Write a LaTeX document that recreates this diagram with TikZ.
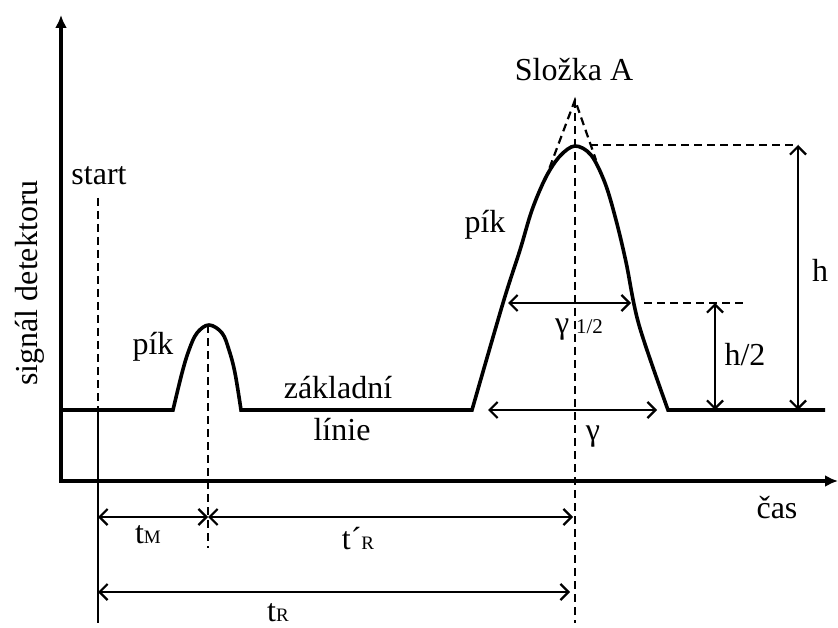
\documentclass[tikz,border=0pt]{standalone}
\usepackage{fontspec}
\setmainfont{Liberation Serif}
\usetikzlibrary{arrows.meta}
\begin{document}
\begin{tikzpicture}[x=1pt,y=-1pt,
  lbl/.style={inner sep=0pt, anchor=base, font=\fontsize{32}{38}\selectfont},
  curve/.style={line width=3.6pt, line join=miter},
  axis/.style={line width=3.2pt, {Latex[length=13pt,width=12pt]}-{Latex[length=13pt,width=12pt]}},
  dim/.style={line width=2.2pt, {Straight Barb[length=8pt,width=16pt]}-{Straight Barb[length=8pt,width=16pt]}},
  guide/.style={line width=2.2pt, dash pattern=on 8pt off 5pt},
  plain/.style={line width=2.2pt},
]
\useasboundingbox (0,0) rectangle (838,628);
% axes
\coordinate (ytop) at (61,15);
\coordinate (orig) at (61,481);
\coordinate (xend) at (838,481);
\draw[axis] (ytop) -- (orig) -- (xend);

% signal curve
\coordinate (b0) at (61,410);
\coordinate (b3) at (825,410);
\draw[curve] (b0) -- plot[smooth, tension=0.6] coordinates {(173,410) (182,373) (189,350) (197,333) (209,325) (222,333) (229,350) (235,373) (241,410)}
  -- plot[smooth, tension=0.55] coordinates {(472,410) (503,303) (520,250) (532,210) (546,177) (560,156) (575,146) (591,155) (605,183) (616,220) (626,262) (639,325) (668,410)}
  -- (b3);

% guide lines
\coordinate (st0) at (98,198);
\coordinate (st1) at (98,410);
\coordinate (st2) at (98,623);
\draw[guide] (st0) -- (st1);
\draw[plain] (st1) -- (st2);
\coordinate (sp0) at (208,325);
\coordinate (sp1) at (208,548);
\draw[guide] (sp0) -- (sp1);
\coordinate (apex) at (575,100);
\coordinate (cb) at (575,623);
\draw[guide] (apex) -- (cb);
\coordinate (tl) at (545,180);
\coordinate (tr) at (596,160);
\draw[guide] (tl) -- (apex) -- (tr);
\coordinate (top0) at (590,145);
\coordinate (top1) at (798,145);
\draw[guide] (top0) -- (top1);
\coordinate (hh0) at (644,303);
\coordinate (hh1) at (746,303);
\draw[guide] (hh0) -- (hh1);

% dimension arrows
\coordinate (hb) at (798,410);
\draw[dim] (top1) -- (hb);
\coordinate (h2a) at (715,303);
\coordinate (h2b) at (715,410);
\draw[dim] (h2a) -- (h2b);
\coordinate (g12a) at (508,303);
\coordinate (g12b) at (631,303);
\draw[dim] (g12a) -- (g12b);
\coordinate (ga) at (488,410);
\coordinate (gb) at (657,410);
\draw[dim] (ga) -- (gb);
\coordinate (tMa) at (98,517);
\coordinate (tMb) at (208,517);
\coordinate (tRpb) at (573,517);
\draw[dim] (tMa) -- (tMb);
\draw[dim] (tMb) -- (tRpb);
\coordinate (tRa) at (98,592);
\coordinate (tRb) at (570,592);
\draw[dim] (tRa) -- (tRb);

% labels
\node[lbl, rotate=90] (ylab) at (37,283) {signál detektoru};
\node[lbl] (start) at (99,185) {start};
\node[lbl] (slozka) at (574,81) {Složka A};
\node[lbl] (pik1) at (153,355) {pík};
\node[lbl] (pik2) at (485,233) {pík};
\node[lbl] (zakl) at (338,398) {základní};
\node[lbl] (linie) at (342,440) {línie};
\node[lbl] (h) at (820,282) {h};
\node[lbl] (h2) at (745,365) {h/2};
\node[lbl] (g12) at (579,334) {γ\hspace{7pt}{\fontsize{21}{24}\selectfont 1/2}};
\node[lbl] (g) at (593,440) {γ};
\node[lbl] (cas) at (777,518) {čas};
\node[lbl] (tM) at (148,543) {t{\fontsize{19}{22}\selectfont M}};
\node[lbl] (tRp) at (358,549) {t´{\fontsize{19}{22}\selectfont R}};
\node[lbl] (tR) at (278,621) {t{\fontsize{19}{22}\selectfont R}};
\end{tikzpicture}
\end{document}
